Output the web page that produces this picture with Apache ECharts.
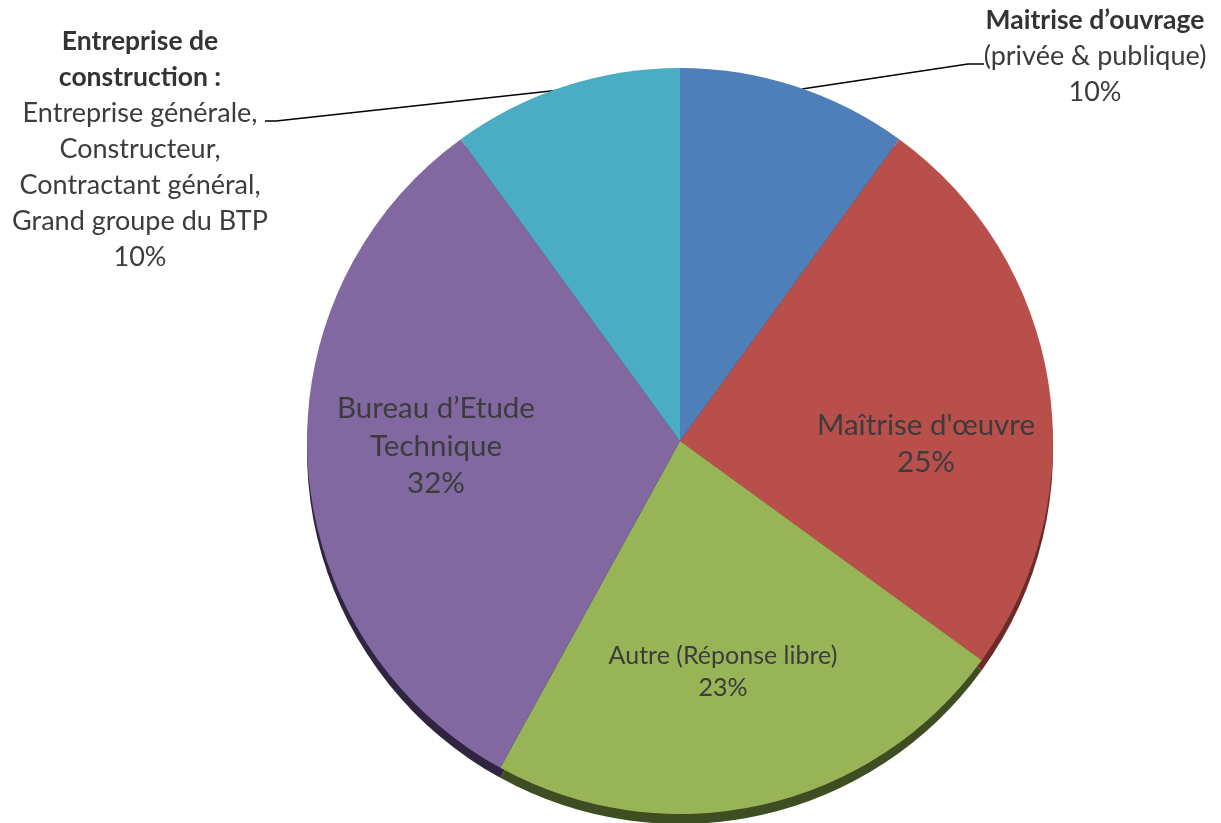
<!DOCTYPE html>
<html>
<head>
<meta charset="utf-8">
<script src="https://cdn.jsdelivr.net/npm/echarts@6/dist/echarts.min.js"></script>
<style>
  html, body { margin: 0; padding: 0; background: #fff; }
  #chart { width: 1221px; height: 823px; }
</style>
</head>
<body>
<div id="chart"></div>
<script>
// données
const categories = ['Maitrise d’ouvrage', 'Maîtrise d\'œuvre', 'Autre (Réponse libre)', 'Bureau d’Etude\nTechnique', 'Entreprise de\nconstruction :'];
const details = ['(privée & publique)', '', '', '', 'Entreprise générale,\nConstructeur,\nContractant général,\nGrand groupe du BTP'];
const values = [10, 25, 23, 32, 10];
const colors = ['#4f7fb8', '#b94f4b', '#97b556', '#8168a0', '#4badc4'];
const edgeColors = ['#2c4a70', '#6b2b29', '#3f4d22', '#2f2540', '#2a6575'];

// placement des étiquettes (centre du bloc de texte)
const labelPos = [[1095, 56], [926, 444], [723, 672], [436, 446], [140, 149]];
const leaderLines = [
  [[802, 89], [968, 64], [984, 64]],
  null, null, null,
  [[560, 90], [276, 121], [265, 121]]
];

const font = 'Lato, "Open Sans", sans-serif';
const textColor = '#3c3c3c';

let chart = echarts.init(document.getElementById('chart'));

let data = values.map((v, i) => {
  let outside = leaderLines[i] != null;
  return {
    name: categories[i],
    value: v,
    itemStyle: { color: colors[i] },
    label: {
      show: true,
      position: outside ? 'outside' : 'inside',
      fontSize: i === 2 ? 25 : 29.5,
      lineHeight: i === 2 ? 32 : 37.5
    },
    labelLine: { show: outside }
  };
});

chart.setOption({
  animation: false,
  series: [
    {
      // épaisseur 3D sous le disque
      type: 'pie',
      silent: true,
      center: [680, 451],
      radius: 373,
      startAngle: 90,
      label: { show: false },
      labelLine: { show: false },
      itemStyle: { borderWidth: 0 },
      data: values.map((v, i) => ({ value: v, itemStyle: { color: edgeColors[i] } })),
      z: 1
    },
    {
      type: 'pie',
      center: [680, 441],
      radius: 373,
      startAngle: 90,
      z: 2,
      itemStyle: { borderWidth: 0 },
      label: {
        color: textColor,
        fontFamily: font,
        align: 'center',
        formatter: function (p) {
          let pct = Math.round(p.percent) + '%';
          let i = p.dataIndex;
          if (leaderLines[i]) {
            return '{b|' + p.name.split('\n').join('}\n{b|') + '}\n{n|' +
              details[i].split('\n').join('}\n{n|') + '}\n{n|' + pct + '}';
          }
          return p.name + '\n' + pct;
        },
        rich: {
          b: { fontWeight: 'bold', fontSize: 26.5, lineHeight: 36, color: '#333', fontFamily: font },
          n: { fontSize: 27, lineHeight: 36, color: textColor, fontFamily: font }
        }
      },
      labelLine: {
        lineStyle: { color: '#000', width: 1.5 }
      },
      labelLayout: function (params) {
        let i = params.dataIndex;
        let res = {
          x: labelPos[i][0],
          y: labelPos[i][1],
          align: 'center',
          verticalAlign: 'middle'
        };
        if (leaderLines[i]) res.labelLinePoints = leaderLines[i];
        return res;
      },
      data: data
    }
  ]
});

window.addEventListener('resize', function () {
  chart.resize();
});
</script>
</body>
</html>
